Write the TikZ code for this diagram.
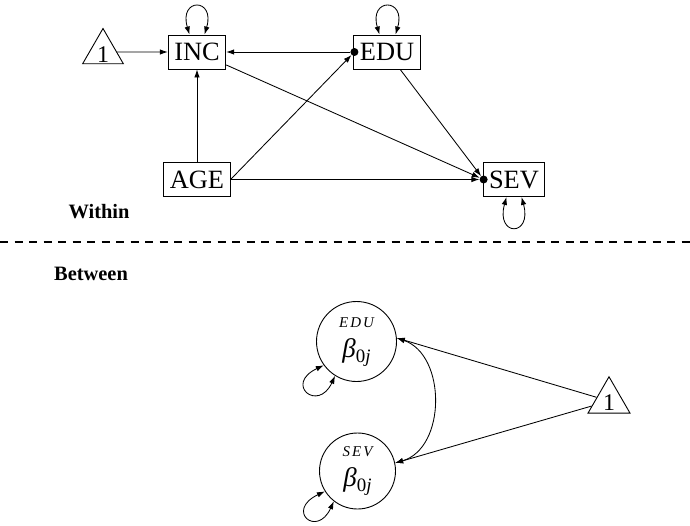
\documentclass[tikz,border=0pt]{standalone}
\usepackage{fontspec}
\setmainfont{Liberation Serif}
\newfontfamily\spacedfont[LetterSpace=14]{Liberation Serif}
\usetikzlibrary{arrows.meta,shapes.geometric}
\begin{document}
\begin{tikzpicture}[x=1bp,y=-1bp,
  every node/.style={inner sep=0pt},
  var/.style={draw, line width=0.9bp, minimum height=34bp, inner xsep=6bp, font=\fontsize{26.5}{26.5}\selectfont},
  tri/.style={draw, line width=0.9bp, regular polygon, regular polygon sides=3, font=\fontsize{24}{24}\selectfont},
  lat/.style={draw, circle, line width=0.9bp},
  conn/.style={line width=0.85bp, -{Latex[length=8bp,width=5.5bp]}},
  dbl/.style={line width=0.85bp, {Latex[length=8bp,width=5.5bp]}-{Latex[length=8bp,width=5.5bp]}},
  dotnode/.style={circle, fill, minimum size=8bp},
  lvl/.style={font=\fontsize{20.5}{20.5}\selectfont\bfseries},
  latname/.style={font=\spacedfont\itshape\fontsize{15}{15}\selectfont},
  latbeta/.style={font=\fontsize{27}{27}\selectfont},
  seprule/.style={line width=2.4bp, dash pattern=on 8bp off 6.5bp}
]
\useasboundingbox (0,0) rectangle (690,526);

% ---------- Within level ----------
\node[tri, minimum size=47bp] (tri1) at (103,52) {\raisebox{-3bp}[\height][0pt]{1}};
\node[var] (inc) at (197,52) {INC};
\node[var] (edu) at (387,52) {EDU};
\node[var] (age) at (197,179.5) {AGE};
\node[var] (sev) at (514,179.5) {SEV};
\node[dotnode] (edudot) at ([xshift=1bp]edu.west) {};
\node[dotnode] (sevdot) at ([xshift=1bp]sev.west) {};

\draw[conn] (tri1) -- (inc);
\draw[conn] (edudot) -- (inc);
\draw[conn] (age) -- (inc);
\draw[conn] (age.east) -- (edudot);
\draw[conn] (age.east) -- (sevdot);
\draw[conn] (inc) -- (sevdot);
\draw[conn] (edu) -- (sevdot);

\draw[dbl] ([xshift=-7.5bp]inc.north) .. controls +(-11,-37) and +(11,-37) .. ([xshift=7.5bp]inc.north);
\draw[dbl] ([xshift=-7.5bp]edu.north) .. controls +(-11,-37) and +(11,-37) .. ([xshift=8.5bp]edu.north);
\draw[dbl] ([xshift=-7.5bp]sev.south) .. controls +(-11,40) and +(11,40) .. ([xshift=7.5bp]sev.south);

\node[lvl] (within) at (99,212) {Within};

% ---------- separator ----------
\coordinate (sepL) at (0,242);
\coordinate (sepR) at (690,242);
\draw[seprule] (sepL) -- (sepR);

% ---------- Between level ----------
\node[lvl] (between) at (91,274) {Between};

\node[lat, minimum size=80bp] (educ) at (356.5,341.5) {};
\node[lat, minimum size=76bp] (sevc) at (357.5,471) {};
\node[latname] (educname) at ([yshift=18.5bp]educ.center) {EDU};
\node[latbeta] (educbeta) at ([yshift=-11.5bp]educ.center) {\textit{β}\raisebox{-5bp}{\fontsize{19}{19}\selectfont 0\textit{j}}};
\node[latname] (sevcname) at ([yshift=19bp]sevc.center) {SEV};
\node[latbeta] (sevcbeta) at ([yshift=-11bp]sevc.center) {\textit{β}\raisebox{-5bp}{\fontsize{19}{19}\selectfont 0\textit{j}}};

\node[tri, minimum size=48.5bp] (tri2) at (609,401) {\raisebox{-2bp}[\height][0pt]{1}};

\draw[conn] (tri2) -- (educ.5);
\draw[conn] (tri2) -- (sevc.12);
\draw[dbl] (educ.5) .. controls +(49.7,17) and +(51.3,-15) .. (sevc.12);

\draw[dbl] (educ.216) .. controls +(-40,19) and +(-17,37) .. (educ.238);
\draw[dbl] (sevc.212) .. controls +(-40,19) and +(-17,37) .. (sevc.232);
\end{tikzpicture}
\end{document}
